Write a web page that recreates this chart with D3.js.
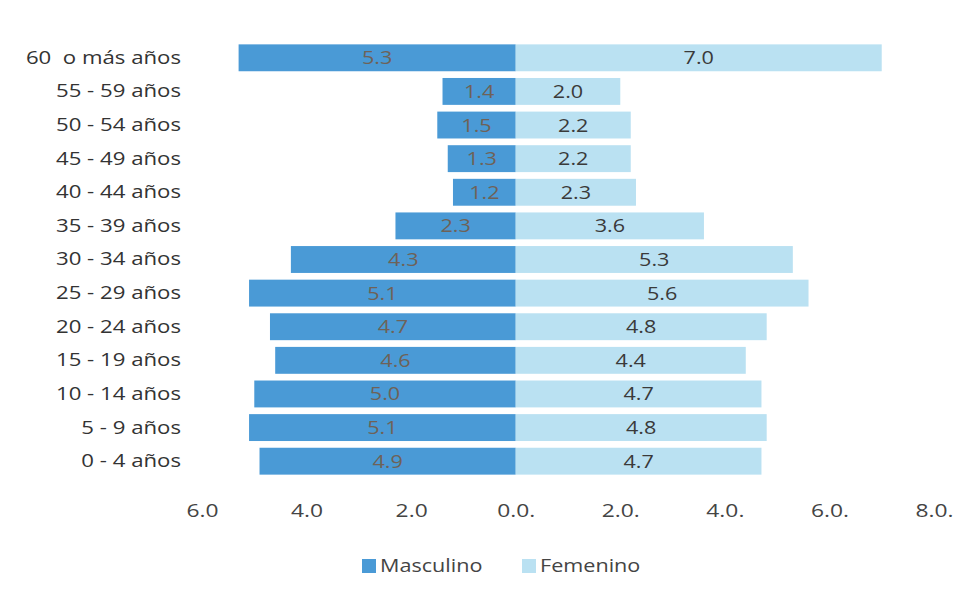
<!DOCTYPE html>
<html>
<head>
<meta charset="utf-8">
<script src="https://cdn.jsdelivr.net/npm/d3@7"></script>
<style>
  body { margin: 0; background: #fff; }
  svg { display: block; font-family: "Open Sans", sans-serif; }
  svg text { white-space: pre; }
</style>
</head>
<body>
<svg id="chart" width="970" height="596"></svg>
<script>
// age groups, top to bottom
const grupos = ['60  o más años', '55 - 59 años', '50 - 54 años', '45 - 49 años', '40 - 44 años',
  '35 - 39 años', '30 - 34 años', '25 - 29 años', '20 - 24 años', '15 - 19 años',
  '10 - 14 años', '5 - 9 años', '0 - 4 años']
const masculino = [5.3, 1.4, 1.5, 1.3, 1.2, 2.3, 4.3, 5.1, 4.7, 4.6, 5.0, 5.1, 4.9]
const femenino  = [7.0, 2.0, 2.2, 2.2, 2.3, 3.6, 5.3, 5.6, 4.8, 4.4, 4.7, 4.8, 4.7]
const tickVals  = [-6, -4, -2, 0, 2, 4, 6, 8]
const tickText  = ['6.0', '4.0', '2.0', '0.0.', '2.0.', '4.0.', '6.0.', '8.0.']
const series    = ['Masculino', 'Femenino']

const colMasc = '#4a9ad6', colFem = '#bae1f2'
// the scanned type is wider than Open Sans, stretch it a bit
const stretch = 'scale(1.2,1)'

const svg = d3.select('#chart')

const x = d3.scaleLinear().domain([-6, 8]).range([202, 934])
const y = d3.scaleBand().domain(grupos).range([41, 478]).paddingInner(0.2).paddingOuter(0.1)

let rows = svg.append('g').selectAll('g.fila')
	.data(grupos.map((g, i) => ({ g: g, m: masculino[i], f: femenino[i] })))
	.enter().append('g').attr('class', 'fila')

// male bars go left
rows.append('rect')
	.attr('x', (d) => x(-d.m))
	.attr('y', (d) => y(d.g))
	.attr('width', (d) => x(0) - x(-d.m))
	.attr('height', y.bandwidth())
	.attr('fill', colMasc)

rows.append('rect')
	.attr('x', x(0))
	.attr('y', (d) => y(d.g))
	.attr('width', (d) => x(d.f) - x(0))
	.attr('height', y.bandwidth())
	.attr('fill', colFem)

// value labels in the middle of each bar
rows.append('text')
	.attr('transform', (d) => 'translate(' + (x(-d.m) + x(0)) / 2 + ',' + (y(d.g) + y.bandwidth() / 2) + ') ' + stretch)
	.attr('dy', '0.36em')
	.attr('text-anchor', 'middle')
	.attr('font-size', 18)
	.attr('fill', '#6e6258')
	.text((d) => d.m.toFixed(1))

rows.append('text')
	.attr('transform', (d) => 'translate(' + (x(d.f) + x(0)) / 2 + ',' + (y(d.g) + y.bandwidth() / 2) + ') ' + stretch)
	.attr('dy', '0.36em')
	.attr('text-anchor', 'middle')
	.attr('font-size', 18)
	.attr('fill', '#3a3a3a')
	.text((d) => d.f.toFixed(1))

// category axis (no line, no ticks)
const yAxis = svg.append('g')
	.attr('transform', 'translate(181,0)')
	.call(d3.axisLeft(y).tickSize(0).tickPadding(0))
yAxis.select('.domain').remove()
yAxis.selectAll('text')
	.attr('transform', stretch)
	.attr('font-family', '"Open Sans", sans-serif')
	.attr('font-size', 18.5)
	.attr('fill', '#333')

// value axis
const xAxis = svg.append('g')
	.attr('transform', 'translate(0,504)')
	.call(d3.axisBottom(x).tickValues(tickVals).tickSize(0).tickPadding(0)
		.tickFormat((d, i) => tickText[i]))
xAxis.select('.domain').remove()
xAxis.selectAll('text')
	.attr('transform', stretch)
	.attr('font-family', '"Open Sans", sans-serif')
	.attr('font-size', 19)
	.attr('fill', '#444')

// legend
const leg = svg.append('g').attr('transform', 'translate(362,566)')
const legX = [0, 160]
series.forEach((s, i) => {
	leg.append('rect')
		.attr('x', legX[i]).attr('y', -7)
		.attr('width', 14).attr('height', 14)
		.attr('fill', i === 0 ? colMasc : colFem)
	leg.append('text')
		.attr('transform', 'translate(' + (legX[i] + 18) + ',0) ' + stretch)
		.attr('dy', '0.36em')
		.attr('font-size', 18)
		.attr('fill', '#444')
		.text(s)
})
</script>
</body>
</html>
